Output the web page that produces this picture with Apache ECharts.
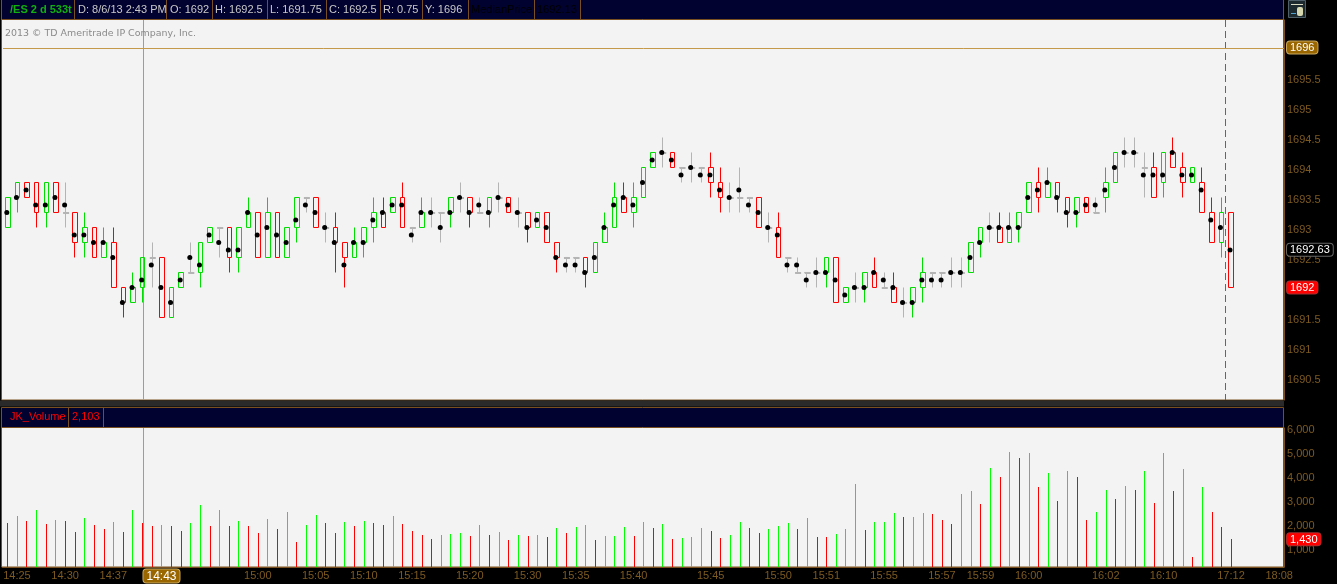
<!DOCTYPE html>
<html><head><meta charset="utf-8">
<script src="https://cdn.jsdelivr.net/npm/echarts@6/dist/echarts.min.js"></script>
<style>html,body{margin:0;padding:0;background:#000;overflow:hidden}#c{width:1337px;height:584px}</style>
</head><body><div id="c"></div>
<script>
const opens=[1693,1693.5,1693.75,1693.75,1693.25,1693.75,1693.25,1693.25,1692.75,1693,
1692.5,1692.75,1692,1691.75,1692,1692.5,1692.5,1691.5,1692,1692.25,
1692.25,1692.75,1693,1693,1692.5,1693,1693.25,1692.5,1693.25,1692.5,
1693,1693.5,1693.5,1693,1693,1692.75,1692.5,1692.75,1693,1693.25,
1693.25,1693.5,1693,1693,1693.25,1693.25,1693.25,1693.5,1693.5,1693.25,
1693.25,1693.5,1693.5,1693.25,1693.25,1693,1693.25,1692.75,1692.5,1692.5,
1692.5,1692.25,1692.75,1693,1693.5,1693.25,1693.5,1694,1694.25,1694.25,
1694,1694,1694,1694,1693.75,1693.5,1693.5,1693.5,1693.5,1693,
1693,1692.5,1692.25,1692.25,1692.25,1692.25,1692.5,1691.75,1692,1692,
1692.25,1692,1692,1691.75,1691.75,1692,1692.25,1692.25,1692.25,1692.25,
1692.25,1692.75,1693,1693,1692.75,1693,1693.25,1693.75,1693.5,1693.75,
1693.5,1693.25,1693.5,1693.25,1693.5,1693.75,1694.25,1694.25,1694,1694,
1693.75,1694.25,1694,1693.75,1693.75,1693.25,1692.75,1693.25];
const closes=[1693.5,1693.75,1693.5,1693.25,1693.75,1693.25,1693.25,1692.75,1693,1692.5,
1692.75,1692,1691.75,1692,1692.5,1692.5,1691.5,1692,1692.25,1692.25,
1692.75,1693,1693,1692.5,1693,1693.25,1692.5,1693.25,1692.5,1693,
1693.5,1693.5,1693,1693,1692.75,1692.5,1692.75,1693,1693.25,1693,
1693.5,1693,1693,1693.25,1693.25,1693.25,1693.5,1693.5,1693.25,1693.25,
1693.5,1693.5,1693.25,1693.25,1693,1693.25,1692.75,1692.5,1692.5,1692.5,
1692.25,1692.75,1693,1693.5,1693.25,1693.5,1694,1694.25,1694.25,1694,
1694,1694,1694,1693.75,1693.5,1693.5,1693.5,1693.5,1693,1693,
1692.5,1692.5,1692.25,1692.25,1692.25,1692.5,1691.75,1692,1692,1692.25,
1692,1692,1691.75,1691.75,1692,1692.25,1692.25,1692.25,1692.25,1692.25,
1692.75,1693,1693,1692.75,1693,1693.25,1693.75,1693.5,1693.75,1693.5,
1693.25,1693.5,1693.25,1693.25,1693.75,1694.25,1694.25,1694.25,1694,1693.5,
1694.25,1694,1693.75,1694,1693.25,1692.75,1693.25,1692];
const highs=[1693.5,1693.75,1693.75,1693.75,1693.75,1693.75,1693.75,1693.25,1693.25,1693,
1693,1693,1692,1692.25,1692.5,1692.75,1692.5,1692,1692.25,1692.75,
1692.75,1693,1693,1693,1693,1693.5,1693.25,1693.5,1693.25,1693,
1693.5,1693.5,1693.5,1693.25,1693.25,1692.75,1693,1693,1693.5,1693.5,
1693.5,1693.75,1693,1693.5,1693.5,1693.25,1693.5,1693.75,1693.5,1693.5,
1693.5,1693.75,1693.5,1693.5,1693.25,1693.25,1693.25,1692.75,1692.5,1692.5,
1692.5,1692.75,1693.25,1693.75,1693.75,1693.75,1694,1694.25,1694.5,1694.25,
1694,1694.25,1694,1694.25,1694,1693.75,1694,1693.5,1693.5,1693.25,
1693.25,1692.5,1692.5,1692.25,1692.5,1692.5,1692.5,1692,1692.25,1692.25,
1692.5,1692.25,1692.25,1692,1692,1692.5,1692.25,1692.25,1692.5,1692.5,
1692.75,1693,1693.25,1693.25,1693.25,1693.25,1693.75,1694,1694,1693.75,
1693.5,1693.5,1693.5,1693.5,1694,1694.25,1694.5,1694.5,1694.25,1694.25,
1694.25,1694.5,1694.25,1694,1694,1693.5,1693.5,1693.25];
const lows=[1693,1693.25,1693.5,1693,1693,1693.25,1693,1692.5,1692.5,1692.5,
1692.5,1692,1691.5,1691.75,1691.75,1692,1691.5,1691.5,1692,1692.25,
1692,1692.75,1692.5,1692.25,1692.25,1693,1692.5,1692.5,1692.5,1692.5,
1692.75,1693.25,1693,1692.75,1692.25,1692,1692.5,1692.5,1692.75,1693,
1693.25,1693,1692.75,1693,1693,1692.75,1693,1693.25,1693,1693.25,
1693,1693.25,1693.25,1693,1692.75,1693,1692.75,1692.25,1692.25,1692.25,
1692,1692.25,1692.75,1693,1693.25,1693,1693.5,1694,1694,1694,
1693.75,1693.75,1693.75,1693.5,1693.25,1693.25,1693.25,1693.25,1693,1692.75,
1692.5,1692.25,1692.25,1692,1692,1692,1691.75,1691.75,1691.75,1691.75,
1692,1692,1691.75,1691.5,1691.5,1691.75,1692,1692,1692,1692,
1692.25,1692.5,1692.75,1692.75,1692.75,1692.75,1693.25,1693.25,1693.5,1693.25,
1693,1693,1693.25,1693.25,1693.25,1693.75,1694,1694,1693.5,1693.5,
1693.5,1694,1693.5,1693.75,1693.25,1692.75,1692.5,1692];
const medians=[1693.25,1693.5,1693.625,1693.375,1693.375,1693.5,1693.375,1692.875,1692.875,1692.75,
1692.75,1692.5,1691.75,1692,1692.125,1692.375,1692,1691.75,1692.125,1692.5,
1692.375,1692.875,1692.75,1692.625,1692.625,1693.25,1692.875,1693,1692.875,1692.75,
1693.125,1693.375,1693.25,1693,1692.75,1692.375,1692.75,1692.75,1693.125,1693.25,
1693.375,1693.375,1692.875,1693.25,1693.25,1693,1693.25,1693.5,1693.25,1693.375,
1693.25,1693.5,1693.375,1693.25,1693,1693.125,1693,1692.5,1692.375,1692.375,
1692.25,1692.5,1693,1693.375,1693.5,1693.375,1693.75,1694.125,1694.25,1694.125,
1693.875,1694,1693.875,1693.875,1693.625,1693.5,1693.625,1693.375,1693.25,1693,
1692.875,1692.375,1692.375,1692.125,1692.25,1692.25,1692.125,1691.875,1692,1692,
1692.25,1692.125,1692,1691.75,1691.75,1692.125,1692.125,1692.125,1692.25,1692.25,
1692.5,1692.75,1693,1693,1693,1693,1693.5,1693.625,1693.75,1693.5,
1693.25,1693.25,1693.375,1693.375,1693.625,1694,1694.25,1694.25,1693.875,1693.875,
1693.875,1694.25,1693.875,1693.875,1693.625,1693.125,1693,1692.625];
const volumes=[2110,2404,2194,2656,2068,2236,2194,1732,2320,2026,
1858,2152,1732,2656,2103,1984,2026,1984,1774,2110,
2866,1984,2656,1984,2194,1984,1690,2278,1858,2572,
1310,2026,2446,2110,1690,2152,1984,2194,2110,2026,
2404,2068,1774,1606,1438,1606,1648,1690,1564,2026,
1606,1732,1396,1606,1564,1606,1522,1900,1690,1942,
2026,1396,1564,1564,1942,1564,2152,1900,2068,1438,
1480,1522,1900,1774,1480,1606,2152,1900,1690,1858,
1984,2110,1858,2320,1522,1522,1648,1858,3748,1816,
2152,2152,2530,2362,2362,2530,2488,2236,2068,3328,
3454,2908,4420,4042,5092,4840,5050,3622,4210,3034,
4294,4042,2236,2572,3496,3118,3664,3496,4294,2950,
5050,3454,4378,684,3622,2572,1942,1430];
const volumeUp=[0,1,0,1,0,1,0,0,1,0,0,1,0,1,0,0,1,0,0,1,
1,0,1,0,1,0,0,1,0,1,0,1,1,0,0,1,0,1,0,0,
1,0,0,0,0,1,1,1,0,1,0,1,0,1,0,1,0,1,0,1,
1,0,1,1,1,0,1,0,1,0,1,1,1,0,0,1,1,0,0,1,
1,1,0,1,0,0,1,1,1,0,1,1,1,0,1,1,0,0,0,1,
1,0,1,0,1,0,1,0,1,0,1,0,0,1,1,0,1,0,1,0,
1,0,1,0,1,0,0,0];
const timeLabels={1:'14:25',6:'14:30',11:'14:37',16:'14:43',26:'15:00',32:'15:05',37:'15:10',42:'15:15',48:'15:20',54:'15:30',59:'15:35',65:'15:40',73:'15:45',80:'15:50',85:'15:51',91:'15:55',97:'15:57',101:'15:59',106:'16:00',114:'16:02',120:'16:10',127:'17:12',132:'18:08'};
const categories=Array.from({length:133},(_,i)=>timeLabels[i]||'');
const priceTicks=[1690.5,1691,1691.5,1692.5,1693,1693.5,1694,1694.5,1695,1695.5,1696,1692,1692.63];
const volumeTicks=[1000,2000,3000,4000,5000,6000,1430];
const headerCells=[['/ES 2 d 533t',10,'#10b010','bold'],['D: 8/6/13 2:43 PM',78,'#c8c8c8'],['O: 1692',170,'#c8c8c8'],['H: 1692.5',215,'#c8c8c8'],['L: 1691.75',270,'#c8c8c8'],['C: 1692.5',329,'#c8c8c8'],['R: 0.75',383,'#c8c8c8'],['Y: 1696',425,'#c8c8c8'],['MedianPrice',471,'#000'],['1692.13',537,'#000']];
const headerSeps=[74,166,212,267,326,380,422,468,534,580];

const FONT='"Liberation Sans", Arial, sans-serif', BROWN='#7d5a22', BORDER='#7a5020', NAVY='#020230';
const VOL_MIN=266, VOL_MAX=6100;
const G=[];
const rect=(x,y,w,h,fill,stroke)=>G.push({type:'rect',z:-10,silent:true,shape:{x,y,width:w,height:h},style:{fill,stroke:stroke||null,lineWidth:1}});
const line=(x1,y1,x2,y2,stroke,extra)=>G.push({type:'line',z:-9,silent:true,shape:{x1,y1,x2,y2},style:Object.assign({stroke,lineWidth:1},extra||{})});
const text=(x,y,t,fill,weight)=>G.push({type:'text',z:5,silent:true,x,y,style:{text:t,fill,font:(weight||'normal')+' 11px '+FONT,verticalAlign:'middle'}});
rect(1.5,-1,1282,21,NAVY,BORDER);
rect(1.5,19.5,1282,380.5,'#f3f3f3',BORDER);
rect(0,400.5,1284,6,'#2a2a2a');
rect(1.5,407.5,1282,20,NAVY,BORDER);
rect(1.5,427.5,1282,139.5,'#f3f3f3',BORDER);
headerSeps.forEach(x=>line(x+.5,0,x+.5,19,BORDER));
headerCells.forEach(c=>text(c[1],10,c[0],c[2],c[3]));
line(68.5,408,68.5,427,BORDER);line(103.5,408,103.5,427,BORDER);
text(10,417,'JK_Volume','#ff0000');text(72,417,'2,103','#ff0000');
G.push({type:'text',z:5,silent:true,x:5,y:33.5,style:{text:'2013 © TD Ameritrade IP Company, Inc.',fill:'#8a8a8a',font:'9.45px "DejaVu Sans"',verticalAlign:'middle'}});
line(1225.5,20,1225.5,400,'#666',{lineDash:[7,4]});
line(143.5,20,143.5,400,'#b09a70');
line(143.5,428,143.5,567,'#b09a70');
rect(1288.5,0.5,17,17,'#1c2a30','#50606a');
line(1291,4.5,1303,4.5,'#d8d8c0');
G.push({type:'rect',z:5,silent:true,shape:{x:1297,y:7,width:6,height:9,r:2},style:{fill:'#d8d8b0'}});
line(1291,13.5,1296,13.5,'#50a0d0');

const badge=(bg,bc)=>({backgroundColor:bg,borderColor:bc,borderWidth:1,borderRadius:3,color:'#fff',padding:[1,3,0,3],fontSize:11,fontFamily:FONT,lineHeight:12});
const chart=echarts.init(document.getElementById('c'),null,{renderer:'canvas'});
chart.setOption({
 animation:false,backgroundColor:'#000',tooltip:{show:false},
 graphic:G,
 grid:[{left:3,top:20,width:1281,height:380,outerBoundsMode:'none'},{left:2.5,top:428,width:1281.5,height:139,outerBoundsMode:'none'}],
 xAxis:[
  {type:'category',gridIndex:0,data:categories,show:false,boundaryGap:true},
  {type:'category',gridIndex:1,data:categories,boundaryGap:true,axisTick:{show:false},
   axisLine:{lineStyle:{color:BORDER}},
   axisLabel:{interval:(i,v)=>v!=='',margin:3,hideOverlap:false,fontSize:11,fontFamily:FONT,color:BROWN,
    formatter:v=>v==='14:43'?'{b|14:43}':v,rich:{b:Object.assign(badge('#996600','#c8a860'),{fontSize:12})}}}
 ],
 yAxis:[
  {type:'value',gridIndex:0,position:'right',min:1690.125,max:1696.458,splitLine:{show:false},axisTick:{show:false},
   axisLine:{show:true,lineStyle:{color:BORDER}},
   axisLabel:{customValues:priceTicks,margin:3,fontSize:11,fontFamily:FONT,color:BROWN,align:'left',hideOverlap:false,
    formatter:v=>v===1696?'{g|1696}':v===1692?'{r|1692}':v===1692.63?'{k|1692.63}':'{n|'+v+'}',
    rich:{n:{padding:[4,0,0,0],color:BROWN,fontSize:11,fontFamily:FONT},g:badge('#996600','#c8a860'),r:badge('#ff0000','#a03030'),k:badge('#000','#666')}}},
  {type:'value',gridIndex:1,position:'right',min:VOL_MIN,max:VOL_MAX,splitLine:{show:false},axisTick:{show:false},
   axisLine:{show:true,lineStyle:{color:BORDER}},
   axisLabel:{customValues:volumeTicks,margin:3,fontSize:11,fontFamily:FONT,color:BROWN,align:'left',hideOverlap:false,
    formatter:v=>v===1430?'{r|1,430}':echarts.format.addCommas(v),rich:{r:badge('#ff0000','#a03030')}}}
 ],
 series:[
  {type:'candlestick',name:'/ES',xAxisIndex:0,yAxisIndex:0,barWidth:5,silent:true,
   data:opens.map((o,i)=>[o,closes[i],lows[i],highs[i]]),
   itemStyle:{color:'rgba(0,0,0,0)',color0:'rgba(0,0,0,0)',borderColor:'#00dd00',borderColor0:'#ff0000',borderColorDoji:'#b4b4b4',borderWidth:1},
   markLine:{silent:true,symbol:'none',label:{show:false},animation:false,
    data:[{yAxis:1695.985,lineStyle:{color:'#c49a4a',width:1,type:'solid'}}]}},
  {type:'scatter',name:'dojiMark',xAxisIndex:0,yAxisIndex:0,silent:true,z:3,
   data:opens.map((o,i)=>o===closes[i]?o:null),symbol:'rect',symbolSize:[6,2],symbolOffset:[0.5,0.5],
   itemStyle:{color:'#b4b4b4',opacity:1}},
  {type:'scatter',name:'MedianPrice',xAxisIndex:0,yAxisIndex:0,data:medians,symbol:'circle',symbolSize:5,symbolOffset:[-1,0],silent:true,
   itemStyle:{color:'#000',opacity:1},z:4},
  {type:'custom',name:'JK_Volume',xAxisIndex:1,yAxisIndex:1,silent:true,clip:true,
   data:volumes.map((v,i)=>[i,v]),encode:{x:0,y:1},
   renderItem:(params,api)=>{
     const p=api.coord([api.value(0),api.value(1)]), b=api.coord([api.value(0),VOL_MIN]);
     const top=Math.round(p[1]);
     return {type:'rect',shape:{x:Math.round(p[0]-.1),y:top,width:1,height:Math.round(b[1])-top},
       style:{fill:volumeUp[params.dataIndex]?'#00ff00':'#ff0000'}};
   }}
 ]
});
</script></body></html>
